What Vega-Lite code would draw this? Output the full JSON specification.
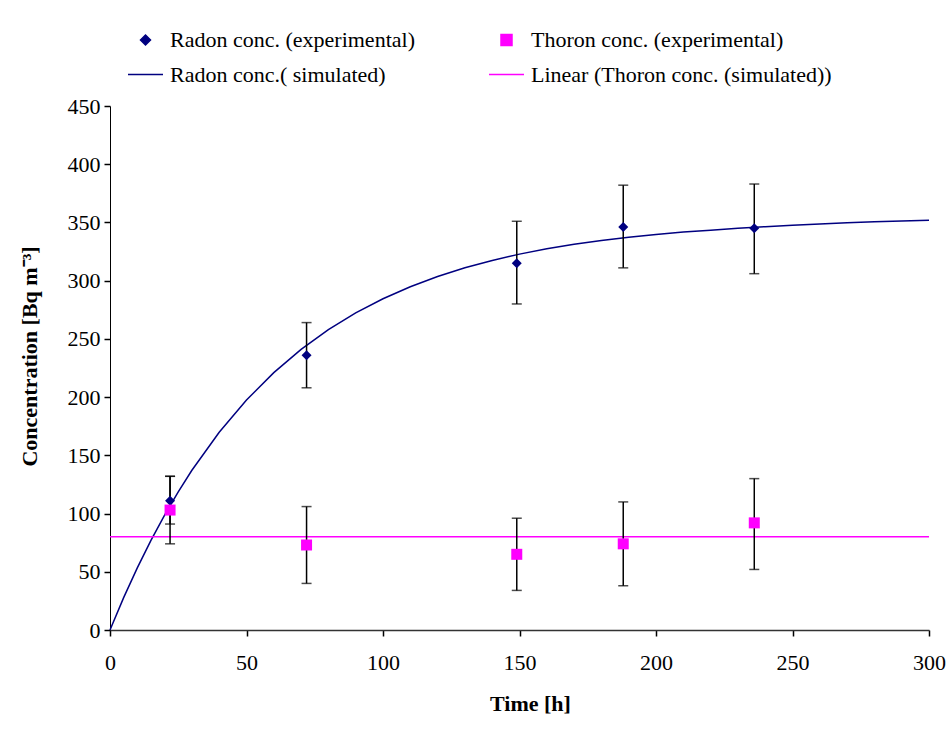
{
  "$schema": "https://vega.github.io/schema/vega-lite/v6.json",
  "width": 819,
  "height": 524,
  "autosize": {"type": "none"},
  "padding": {"left": 110, "top": 106, "right": 20, "bottom": 125},
  "background": "white",
  "config": {
    "view": {"stroke": null},
    "font": "Liberation Serif",
    "axis": {
      "grid": false,
      "labelFlush": false,
      "labelFont": "Liberation Serif",
      "labelFontSize": 22,
      "labelColor": "black",
      "titleFont": "Liberation Serif",
      "titleFontSize": 22,
      "titleFontWeight": "bold",
      "titleColor": "black",
      "tickColor": "black",
      "tickSize": 6,
      "tickWidth": 1.5,
      "domainColor": "#333333",
      "domainWidth": 1.5
    }
  },
  "datasets": {
    "exp": [
      {"series": "Radon conc. (experimental)", "t": 22, "value": 111, "lo": 91, "hi": 132},
      {"series": "Radon conc. (experimental)", "t": 72, "value": 236, "lo": 208, "hi": 264},
      {"series": "Radon conc. (experimental)", "t": 149, "value": 315, "lo": 280, "hi": 351},
      {"series": "Radon conc. (experimental)", "t": 188, "value": 346, "lo": 311, "hi": 382},
      {"series": "Radon conc. (experimental)", "t": 236, "value": 345, "lo": 306, "hi": 383},
      {"series": "Thoron conc. (experimental)", "t": 22, "value": 103, "lo": 74, "hi": 132},
      {"series": "Thoron conc. (experimental)", "t": 72, "value": 73, "lo": 40, "hi": 106},
      {"series": "Thoron conc. (experimental)", "t": 149, "value": 65, "lo": 34, "hi": 96},
      {"series": "Thoron conc. (experimental)", "t": 188, "value": 74, "lo": 38, "hi": 110},
      {"series": "Thoron conc. (experimental)", "t": 236, "value": 92, "lo": 52, "hi": 130}
    ],
    "sim": [
      {"series": "Radon conc.( simulated)", "t": 0, "value": 0},
      {"series": "Radon conc.( simulated)", "t": 5, "value": 27.8},
      {"series": "Radon conc.( simulated)", "t": 10, "value": 53.4},
      {"series": "Radon conc.( simulated)", "t": 15, "value": 77},
      {"series": "Radon conc.( simulated)", "t": 20, "value": 98.7},
      {"series": "Radon conc.( simulated)", "t": 25, "value": 118.7},
      {"series": "Radon conc.( simulated)", "t": 30, "value": 137.2},
      {"series": "Radon conc.( simulated)", "t": 40, "value": 169.8},
      {"series": "Radon conc.( simulated)", "t": 50, "value": 197.5},
      {"series": "Radon conc.( simulated)", "t": 60, "value": 221},
      {"series": "Radon conc.( simulated)", "t": 70, "value": 241},
      {"series": "Radon conc.( simulated)", "t": 80, "value": 257.9},
      {"series": "Radon conc.( simulated)", "t": 90, "value": 272.3},
      {"series": "Radon conc.( simulated)", "t": 100, "value": 284.5},
      {"series": "Radon conc.( simulated)", "t": 110, "value": 294.8},
      {"series": "Radon conc.( simulated)", "t": 120, "value": 303.6},
      {"series": "Radon conc.( simulated)", "t": 130, "value": 311.1},
      {"series": "Radon conc.( simulated)", "t": 140, "value": 317.4},
      {"series": "Radon conc.( simulated)", "t": 150, "value": 322.8},
      {"series": "Radon conc.( simulated)", "t": 160, "value": 327.4},
      {"series": "Radon conc.( simulated)", "t": 170, "value": 331.3},
      {"series": "Radon conc.( simulated)", "t": 180, "value": 334.5},
      {"series": "Radon conc.( simulated)", "t": 190, "value": 337.3},
      {"series": "Radon conc.( simulated)", "t": 200, "value": 339.7},
      {"series": "Radon conc.( simulated)", "t": 210, "value": 341.7},
      {"series": "Radon conc.( simulated)", "t": 220, "value": 343.4},
      {"series": "Radon conc.( simulated)", "t": 230, "value": 345},
      {"series": "Radon conc.( simulated)", "t": 240, "value": 346.4},
      {"series": "Radon conc.( simulated)", "t": 250, "value": 347.6},
      {"series": "Radon conc.( simulated)", "t": 260, "value": 348.7},
      {"series": "Radon conc.( simulated)", "t": 270, "value": 349.7},
      {"series": "Radon conc.( simulated)", "t": 280, "value": 350.6},
      {"series": "Radon conc.( simulated)", "t": 290, "value": 351.3},
      {"series": "Radon conc.( simulated)", "t": 300, "value": 351.8},
      {"series": "Linear (Thoron conc. (simulated))", "t": 0, "value": 80},
      {"series": "Linear (Thoron conc. (simulated))", "t": 300, "value": 80}
    ]
  },
  "layer": [
    {
      "data": {"name": "sim"},
      "mark": {"type": "line", "strokeWidth": 1.5},
      "encoding": {
        "x": {
          "field": "t", "type": "quantitative", "title": "Time [h]",
          "scale": {"domain": [0, 300], "nice": false},
          "axis": {"title": "Time [h]", "values": [0, 50, 100, 150, 200, 250, 300], "labelPadding": 16, "titlePadding": 20, "titleX": 420}
        },
        "y": {
          "field": "value", "type": "quantitative", "title": "Concentration [Bq m⁻³]",
          "scale": {"domain": [0, 450], "nice": false},
          "axis": {"title": "Concentration [Bq m⁻³]", "values": [0, 50, 100, 150, 200, 250, 300, 350, 400, 450], "labelPadding": 4, "titlePadding": 26, "titleY": 250, "domainColor": "black", "domainWidth": 1}
        },
        "color": {
          "field": "series", "type": "nominal",
          "scale": {
            "domain": ["Radon conc. (experimental)", "Radon conc.( simulated)", "Thoron conc. (experimental)", "Linear (Thoron conc. (simulated))"],
            "range": ["#000080", "#000080", "#FF00FF", "#FF00FF"]
          }
        }
      }
    },
    {
      "data": {"name": "exp"},
      "mark": {"type": "errorbar", "ticks": true, "color": "black", "thickness": 1.5, "size": 10},
      "encoding": {
        "x": {"field": "t", "type": "quantitative", "title": "Time [h]"},
        "y": {"field": "lo", "type": "quantitative", "title": "Concentration [Bq m⁻³]"},
        "y2": {"field": "hi"}
      }
    },
    {
      "data": {"name": "exp"},
      "mark": {"type": "point", "filled": true, "opacity": 1},
      "encoding": {
        "x": {"field": "t", "type": "quantitative", "title": "Time [h]"},
        "y": {"field": "value", "type": "quantitative", "title": "Concentration [Bq m⁻³]"},
        "color": {
          "field": "series", "type": "nominal",
          "legend": {
            "orient": "none", "legendX": 17, "legendY": -77, "columns": 2, "title": null, "padding": 0,
            "labelFont": "Liberation Serif", "labelFontSize": 22, "labelColor": "black", "labelLimit": 0,
            "labelOffset": 6, "rowPadding": 5, "columnPadding": 71, "symbolStrokeWidth": 1.5, "symbolSize": 1225,
            "encode": {"symbols": {"update": {
              "stroke": {"scale": "color", "field": "value"},
              "fill": {"scale": "color", "field": "value"},
              "size": {"scale": "size", "field": "value"}
            }}}
          }
        },
        "shape": {
          "field": "series", "type": "nominal",
          "scale": {
            "domain": ["Radon conc. (experimental)", "Radon conc.( simulated)", "Thoron conc. (experimental)", "Linear (Thoron conc. (simulated))"],
            "range": ["diamond", "stroke", "square", "stroke"]
          }
        },
        "size": {
          "field": "series", "type": "nominal",
          "scale": {
            "type": "ordinal",
            "domain": ["Radon conc. (experimental)", "Radon conc.( simulated)", "Thoron conc. (experimental)", "Linear (Thoron conc. (simulated))"],
            "range": [100, 1225, 121, 1225]
          }
        }
      }
    }
  ]
}
